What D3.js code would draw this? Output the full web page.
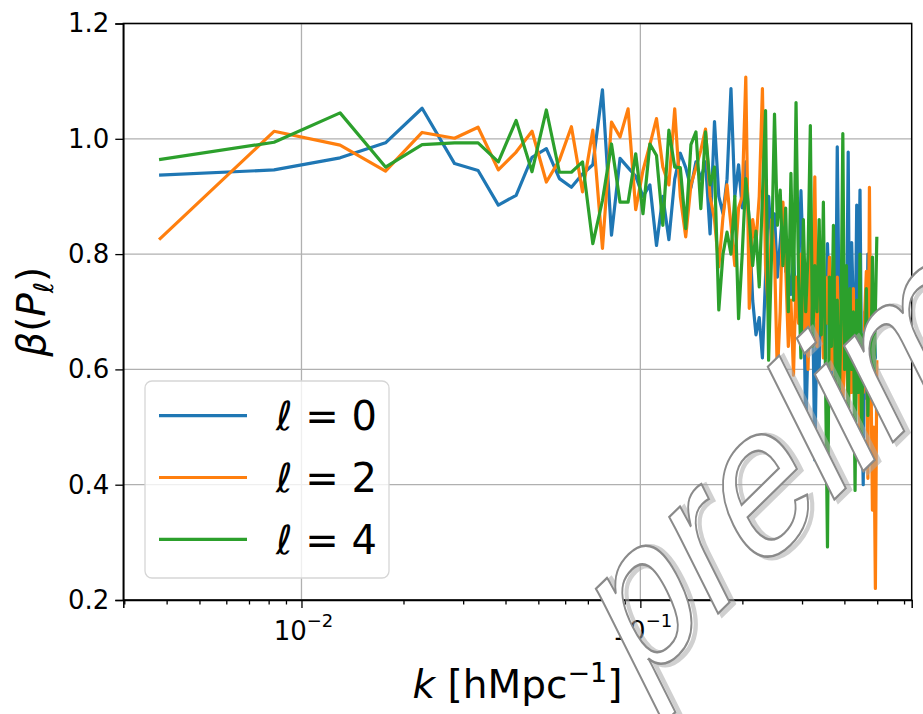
<!DOCTYPE html>
<html>
<head>
<meta charset="utf-8">
<script src="https://cdn.jsdelivr.net/npm/d3@7"></script>
<style>
  body { margin: 0; background: #fff; }
  text { font-family: "DejaVu Sans", sans-serif; }
</style>
</head>
<body>
<div id="chart"></div>
<script>
// k bins [h/Mpc]
var k = [0.0038, 0.0083, 0.0130, 0.0177, 0.0227, 0.0283, 0.0332, 0.0381, 0.0430, 0.0479,
  0.0528, 0.0577, 0.0626, 0.0675, 0.0724, 0.0773, 0.0822, 0.0871, 0.0920, 0.0969,
  0.1018, 0.1067, 0.1116, 0.1165, 0.1214, 0.1263, 0.1312, 0.1361, 0.1410, 0.1459,
  0.1508, 0.1557, 0.1606, 0.1655, 0.1704, 0.1753, 0.1802, 0.1851, 0.1900, 0.1949,
  0.1998, 0.2047, 0.2096, 0.2145, 0.2194, 0.2243, 0.2292, 0.2341, 0.2390, 0.2439,
  0.2488, 0.2537, 0.2586, 0.2635, 0.2684, 0.2733, 0.2782, 0.2831, 0.2880, 0.2929,
  0.2978, 0.3027, 0.3076, 0.3125, 0.3174, 0.3223, 0.3272, 0.3321, 0.3370, 0.3419,
  0.3468, 0.3517, 0.3566, 0.3615, 0.3664, 0.3713, 0.3762, 0.3811, 0.3860, 0.3909,
  0.3958, 0.4007, 0.4056, 0.4105, 0.4154, 0.4203, 0.4252, 0.4301, 0.4350, 0.4399,
  0.4448, 0.4497, 0.4546, 0.4595, 0.4644, 0.4693, 0.4742, 0.4791, 0.4840, 0.4889,
  0.4938, 0.4987];

// beta(P_l) for l = 0
var beta0 = [0.937, 0.946, 0.967, 0.993, 1.053, 0.957, 0.945, 0.885, 0.902, 0.968,
  0.983, 0.931, 0.916, 0.939, 0.955, 1.085, 0.833, 0.966, 0.950, 0.935,
  0.900, 0.920, 0.815, 0.900, 0.825, 0.930, 0.975, 0.950, 0.915, 0.960,
  0.930, 0.960, 0.835, 1.030, 0.900, 0.870, 0.930, 1.087, 0.900, 0.955,
  0.880, 0.960, 0.850, 0.720, 0.660, 0.690, 0.620, 0.760, 0.900, 0.820,
  0.870, 0.760, 0.820, 0.880, 0.770, 0.770, 0.730, 0.800, 0.700, 0.760,
  0.910, 0.780, 0.490, 0.650, 0.700, 0.720, 0.443, 0.680, 0.600, 0.760,
  0.650, 0.620, 0.818, 0.700, 0.560, 0.740, 0.620, 0.986, 0.700, 0.510,
  0.800, 0.600, 0.640, 0.977, 0.560, 0.820, 0.700, 0.620, 0.885, 0.720,
  0.911, 0.580, 0.400, 0.700, 0.550, 0.800, 0.620, 0.720, 0.580, 0.680,
  0.620, 0.620];

// beta(P_l) for l = 2
var beta2 = [0.825, 1.013, 0.989, 0.944, 1.011, 1.001, 1.020, 0.946, 0.977, 1.013,
  0.925, 0.963, 1.021, 0.908, 1.015, 0.810, 1.029, 1.003, 1.052, 0.877,
  0.945, 0.990, 1.035, 0.951, 0.920, 1.052, 0.900, 0.830, 0.920, 0.950,
  0.980, 1.017, 0.900, 0.860, 0.778, 0.864, 0.920, 0.850, 0.780, 0.880,
  0.900, 1.107, 0.706, 0.860, 0.820, 0.900, 1.087, 0.780, 0.700, 0.860,
  0.800, 0.590, 0.700, 0.890, 0.780, 0.640, 0.720, 0.590, 0.760, 0.680,
  0.800, 0.650, 0.740, 0.600, 0.820, 0.700, 0.934, 0.640, 0.800, 0.749,
  0.620, 0.760, 0.680, 0.795, 0.600, 0.700, 0.560, 0.760, 0.650, 0.720,
  0.540, 0.620, 0.700, 0.500, 0.640, 0.560, 0.740, 0.520, 0.680, 0.600,
  0.480, 0.650, 0.560, 0.700, 0.770, 0.411, 0.916, 0.600, 0.356, 0.500,
  0.220, 0.616];

// beta(P_l) for l = 4
var beta4 = [0.964, 0.994, 1.045, 0.951, 0.990, 0.993, 0.993, 0.960, 1.032, 0.943,
  1.050, 0.942, 0.942, 0.960, 0.818, 0.893, 0.991, 0.890, 0.890, 0.974,
  0.870, 0.991, 0.971, 0.850, 1.015, 0.951, 0.950, 0.844, 0.990, 1.012,
  0.879, 1.012, 0.920, 0.951, 0.703, 0.800, 0.838, 0.800, 0.900, 0.688,
  0.800, 0.931, 0.860, 0.780, 0.840, 0.743, 0.900, 1.049, 0.616, 0.800,
  1.043, 0.850, 0.911, 0.780, 0.880, 0.700, 0.940, 0.720, 1.063, 0.760,
  0.620, 0.860, 0.700, 0.800, 1.023, 0.640, 0.780, 0.700, 0.860, 0.660,
  0.890, 0.600, 0.292, 0.760, 0.640, 0.850, 0.580, 0.720, 0.544, 0.680,
  1.009, 0.600, 0.780, 0.520, 0.740, 0.600, 0.700, 0.390, 0.720, 0.560,
  0.800, 0.480, 0.660, 0.580, 0.740, 0.520, 0.680, 0.600, 0.795, 0.560,
  0.700, 0.830];

var seriesNames = ["0", "2", "4"];
var seriesColors = ["#1f77b4", "#ff7f0e", "#2ca02c"];
var yTicks = [0.2, 0.4, 0.6, 0.8, 1.0, 1.2];
var xMajor = [0.01, 0.1];
var xMajorExp = ["\u22122", "\u22121"];
var xMinor = [0.003, 0.004, 0.005, 0.006, 0.007, 0.008, 0.009,
  0.02, 0.03, 0.04, 0.05, 0.06, 0.07, 0.08, 0.09, 0.2, 0.3, 0.4, 0.5, 0.6];

var full_width = 923, full_height = 714;
var plot = {left: 123.3, right: 911.7, top: 23.5, bottom: 600};

var svg = d3.select("#chart")
  .append("svg")
    .attr("width", full_width)
    .attr("height", full_height);

var xScale = d3.scaleLog()
  .domain([0.00298, 0.632])
  .range([plot.left, plot.right]);
var yScale = d3.scaleLinear()
  .domain([0.2, 1.2])
  .range([plot.bottom, plot.top]);

// grid
svg.append("g")
  .selectAll("line.vg")
  .data(xMajor)
  .enter().append("line")
    .attr("x1", d => xScale(d)).attr("x2", d => xScale(d))
    .attr("y1", plot.top).attr("y2", plot.bottom)
    .style("stroke", "#b0b0b0").style("stroke-width", 1.3);
svg.append("g")
  .selectAll("line.hg")
  .data(yTicks)
  .enter().append("line")
    .attr("y1", d => yScale(d)).attr("y2", d => yScale(d))
    .attr("x1", plot.left).attr("x2", plot.right)
    .style("stroke", "#b0b0b0").style("stroke-width", 1.3);

// lines
var series = [beta0, beta2, beta4];
var line = d3.line()
  .x(d => xScale(d[0]))
  .y(d => yScale(d[1]));

series.forEach(function(vals, s) {
  svg.append("path")
    .datum(k.map((kk, i) => [kk, vals[i]]))
    .attr("d", line)
    .style("fill", "none")
    .style("stroke", seriesColors[s])
    .style("stroke-width", 3.2)
    .style("stroke-linejoin", "round");
});

// axes
svg.append("g")
  .attr("transform", "translate(0," + plot.bottom + ")")
  .call(d3.axisBottom(xScale).tickValues(xMajor).tickSize(8).tickFormat(""));
svg.append("g")
  .attr("transform", "translate(0," + plot.bottom + ")")
  .call(d3.axisBottom(xScale).tickValues(xMinor).tickSize(4.5).tickFormat(""))
  .call(g => g.select(".domain").remove());
svg.append("g")
  .attr("transform", "translate(" + plot.left + ",0)")
  .call(d3.axisLeft(yScale).tickValues(yTicks).tickSize(8).tickPadding(6).tickFormat(d3.format(".1f")))
  .call(g => g.selectAll("text").style("font-size", "26px").style("fill", "#000")
    .style("font-family", "DejaVu Sans"));
svg.selectAll(".domain").style("stroke", "#000").style("stroke-width", 1.5);
svg.selectAll(".tick line").style("stroke", "#000").style("stroke-width", 1.3);

// x tick labels 10^n
xMajor.forEach(function(v, i) {
  var t = svg.append("text")
    .attr("x", xScale(v) + 2)
    .attr("y", 640)
    .style("text-anchor", "middle")
    .style("font-size", "26px");
  t.append("tspan").text("10");
  t.append("tspan").attr("dy", -13).style("font-size", "18px").text(xMajorExp[i]);
});

// frame
svg.append("rect")
  .attr("x", plot.left).attr("y", plot.top)
  .attr("width", plot.right - plot.left).attr("height", plot.bottom - plot.top)
  .style("fill", "none").style("stroke", "#000").style("stroke-width", 1.5);

// axis labels
var xl = svg.append("text")
  .attr("x", (plot.left + plot.right) / 2)
  .attr("y", 698)
  .style("text-anchor", "middle")
  .style("font-size", "39px");
xl.append("tspan").style("font-style", "italic").text("k");
xl.append("tspan").text(" [hMpc");
xl.append("tspan").attr("dy", -16).style("font-size", "27px").text("\u22121");
xl.append("tspan").attr("dy", 16).text("]");

var yl = svg.append("text")
  .attr("transform", "translate(45," + (plot.top + plot.bottom) / 2 + ") rotate(-90)")
  .style("text-anchor", "middle")
  .style("font-size", "39px");
yl.append("tspan").style("font-style", "italic").text("\u03b2");
yl.append("tspan").text("(");
yl.append("tspan").style("font-style", "italic").text("P");
yl.append("tspan").attr("dy", 8).style("font-size", "27px").style("font-style", "italic").text("\u2113");
yl.append("tspan").attr("dy", -8).text(")");

// legend
var legend = svg.append("g");
legend.append("rect")
  .attr("x", 145).attr("y", 381).attr("width", 244).attr("height", 197)
  .attr("rx", 7)
  .style("fill", "#fff").style("fill-opacity", 0.8)
  .style("stroke", "#d6d6d6").style("stroke-width", 1.3);
seriesNames.forEach(function(name, i) {
  var ly = 415.7 + i * 61.8;
  legend.append("line")
    .attr("x1", 159).attr("x2", 247)
    .attr("y1", ly).attr("y2", ly)
    .style("stroke", seriesColors[i]).style("stroke-width", 3.2);
  var t = legend.append("text")
    .attr("x", 276)
    .attr("y", ly + 14.5)
    .style("font-size", "40px");
  t.append("tspan").style("font-style", "italic").text("\u2113");
  t.append("tspan").text(" = " + name);
});

// watermark, stretched like in the original figure
var wm = svg.append("g")
  .attr("transform", "translate(636,694) scale(1,1.4) rotate(-35)");
wm.append("text")
  .attr("x", 3).attr("y", 3)
  .style("font-family", "Liberation Sans")
  .style("font-size", "160px")
  .style("fill", "none")
  .style("stroke", "#aaa")
  .style("stroke-width", 4)
  .style("opacity", 0.55)
  .text("preliminary");
wm.append("text")
  .style("font-family", "Liberation Sans")
  .style("font-size", "160px")
  .style("fill", "#fff")
  .style("stroke", "#8a8a8a")
  .style("stroke-width", 1.8)
  .text("preliminary");
</script>
</body>
</html>
